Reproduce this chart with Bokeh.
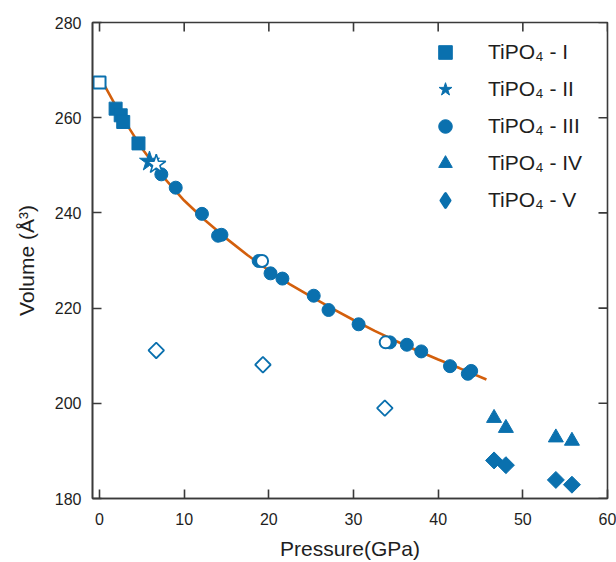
from bokeh.plotting import figure
from bokeh.models import Range1d, LinearAxis, FixedTicker, Legend, LegendItem
from bokeh.embed import file_html
from bokeh.resources import INLINE
import numpy as np

# ---- data ----
p_I = [1.9, 2.5, 2.8, 4.6]
v_I = [261.9, 260.5, 259.1, 254.6]
p_I_open = [0.0]
v_I_open = [267.4]

p_II = [5.9]
v_II = [250.8]
p_II_open = [6.7]
v_II_open = [250.2]

p_III = [7.3, 9.0, 12.1, 14.0, 14.4, 18.8, 20.2, 21.6, 25.3, 27.05, 30.6, 34.3,
         36.3, 38.0, 41.4, 43.5, 43.9]
v_III = [248.1, 245.3, 239.8, 235.2, 235.4, 229.9, 227.3, 226.2, 222.6, 219.6, 216.6,
         212.8, 212.3, 210.9, 207.8, 206.2, 206.8]
p_III_open = [19.2, 33.8]
v_III_open = [229.9, 212.8]

p_IV = [46.6, 48.0, 53.9, 55.8]
v_IV = [196.9, 194.8, 192.8, 192.1]

p_V = [46.6, 48.0, 53.9, 55.8]
v_V = [188.0, 187.0, 183.9, 182.9]
p_V_open = [6.7, 19.3, 33.7]
v_V_open = [211.1, 208.1, 199.0]

fit_p = [0, 2.5, 5, 7.5, 10, 12.5, 15, 17.5, 20, 22.5, 25, 27.5, 30, 32.5, 35,
         37.5, 40, 42.5, 45.7]
fit_v = [268.7, 260.6, 253.6, 247.6, 242.6, 238.4, 234.6, 231.1, 227.9, 225.0,
         222.4, 219.9, 217.5, 215.2, 213.1, 211.1, 209.2, 207.4, 205.0]

x_ticks = [0, 10, 20, 30, 40, 50, 60]
y_ticks = [180, 200, 220, 240, 260, 280]
labels = ["TiPO₄ - I", "TiPO₄ - II", "TiPO₄ - III", "TiPO₄ - IV", "TiPO₄ - V"]

X_MIN, X_MAX = -0.83, 60
Y_MIN, Y_MAX = 180, 280

BLUE = "#0a70ae"
ORANGE = "#d35f0c"
AX = "#3a3a3a"
TXT = "#1e1e1e"
FONT = "Liberation Sans"

p = figure(width=616, height=562, x_range=Range1d(X_MIN, X_MAX), y_range=Range1d(Y_MIN, Y_MAX),
           output_backend="svg", toolbar_location=None,
           x_axis_location=None, y_axis_location=None,
           min_border_left=92, min_border_right=9, min_border_top=22, min_border_bottom=60)
p.xgrid.visible = False
p.ygrid.visible = False
p.outline_line_color = AX
p.outline_line_width = 1.6
p.background_fill_color = "white"
p.border_fill_color = "white"


def style_axis(ax, ticks):
    ax.ticker = FixedTicker(ticks=ticks)
    ax.axis_line_color = AX
    ax.axis_line_width = 1.6
    ax.major_tick_line_color = AX
    ax.major_tick_line_width = 1.6
    ax.major_tick_in = 9
    ax.major_tick_out = 0
    ax.minor_tick_line_color = None
    ax.major_label_text_font = FONT
    ax.major_label_text_font_size = "16px"
    ax.major_label_text_color = TXT
    ax.axis_label_text_font = FONT
    ax.axis_label_text_font_style = "normal"
    ax.axis_label_text_color = TXT
    ax.axis_label_text_font_size = "21px"


left = LinearAxis(axis_label="Volume (Å³)")
style_axis(left, y_ticks)
left.major_label_standoff = 11
left.axis_label_standoff = 14
p.add_layout(left, "left")

bottom = LinearAxis(axis_label="Pressure(GPa)")
style_axis(bottom, x_ticks)
bottom.major_label_standoff = 14
bottom.axis_label_standoff = 9
p.add_layout(bottom, "below")

# inward ticks on the top and right edges of the box
p.ray(x=x_ticks, y=[Y_MAX] * len(x_ticks), length=9, length_units="screen",
      angle=-np.pi / 2, line_color=AX, line_width=1.6)
p.ray(x=[X_MAX] * len(y_ticks), y=y_ticks, length=9, length_units="screen",
      angle=np.pi, line_color=AX, line_width=1.6)

# fit curve
p.line(fit_p, fit_v, line_color=ORANGE, line_width=2.6)

# filled markers
r1 = p.scatter(p_I, v_I, marker="square", size=13, fill_color=BLUE, line_color=BLUE)
r2 = p.scatter(p_II, v_II, marker="star", size=21, fill_color=BLUE, line_color=BLUE)
r3 = p.scatter(p_III, v_III, marker="circle", size=13, fill_color=BLUE, line_color=BLUE)
r4 = p.scatter(p_IV, v_IV, marker="triangle", size=15, fill_color=BLUE, line_color=BLUE)
# diamond glyph used for the legend entry (legend markers are drawn unrotated);
# it sits fully hidden beneath the rotated squares drawn next
r5 = p.scatter(p_V, v_V, marker="diamond", size=8, fill_color=BLUE, line_color=BLUE,
               line_width=3, line_join="round")
p.scatter(p_V, v_V, marker="square", angle=np.pi / 4, size=12, fill_color=BLUE,
          line_color=BLUE)

# open markers
p.scatter(p_I_open, v_I_open, marker="square", size=12, fill_color="white",
          line_color=BLUE, line_width=2)
p.scatter(p_II_open, v_II_open, marker="star", size=20, fill_color="white",
          line_color=BLUE, line_width=1.6)
p.scatter(p_III_open, v_III_open, marker="circle", size=12, fill_color="white",
          line_color=BLUE, line_width=2)
p.scatter(p_V_open, v_V_open, marker="square", angle=np.pi / 4, size=11,
          fill_color="white", line_color=BLUE, line_width=1.8)

legend = Legend(items=[LegendItem(label=labels[i], renderers=[r])
                       for i, r in enumerate([r1, r2, r3, r4, r5])],
                location="top_right", border_line_color=None, background_fill_alpha=0,
                glyph_width=34, glyph_height=34, label_standoff=26, spacing=3,
                padding=0, margin=13, label_width=106, label_height=34,
                label_text_font=FONT, label_text_font_size="21px",
                label_text_color=TXT)
p.add_layout(legend)

open("out.html", "w").write(file_html(p, INLINE))
